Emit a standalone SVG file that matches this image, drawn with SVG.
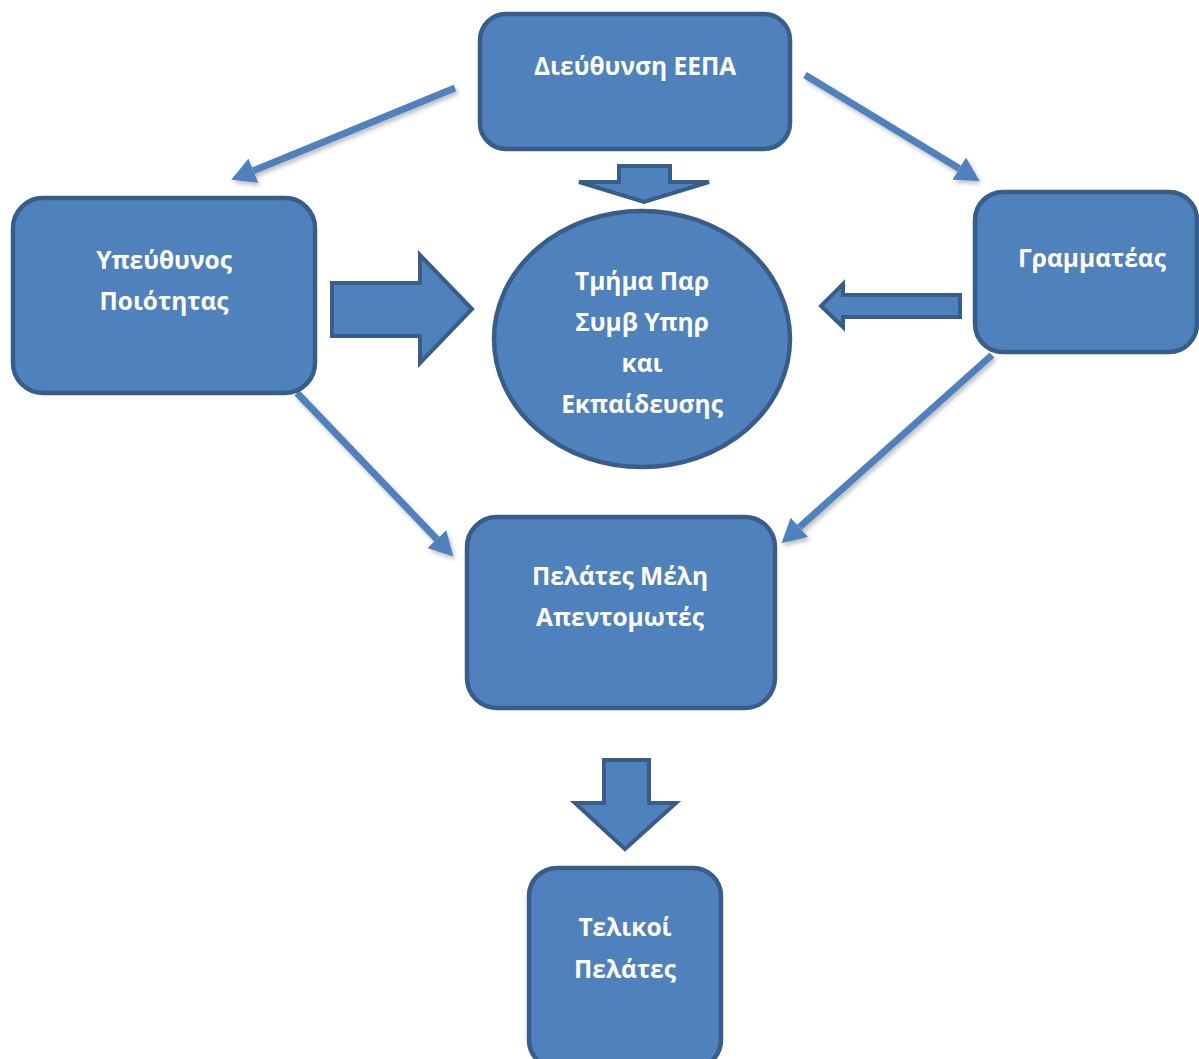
<svg xmlns="http://www.w3.org/2000/svg" width="1199" height="1059" viewBox="0 0 1199 1059">
  <style>
    .node { fill: #4F81BD; stroke: #385D8A; stroke-width: 4.5; }
    .block { fill: #4F81BD; stroke: #385D8A; stroke-width: 4; stroke-linejoin: miter; }
    .lbl { font-family: "Open Sans", "Liberation Sans", sans-serif; font-weight: 700; font-size: 24.5px; fill: #FFFFFF; text-anchor: middle; }
    .conn { stroke: #4F81BD; stroke-width: 7; fill: none; marker-end: url(#head); filter: url(#shadow); }
  </style>
  <defs>
    <marker id="head" markerUnits="userSpaceOnUse" markerWidth="24" markerHeight="26" viewBox="0 0 24 26" refX="0" refY="13" orient="auto">
      <path d="M0,0 L24,13 L0,26 z" fill="#4F81BD"/>
    </marker>
    <filter id="shadow" x="-20%" y="-20%" width="140%" height="140%">
      <feDropShadow dx="2" dy="3" stdDeviation="2" flood-color="#000000" flood-opacity="0.25"/>
    </filter>
  </defs>
  <rect width="1199" height="1059" fill="#FFFFFF"/>

  <g id="connectors">
    <path class="conn" d="M455,88 L253.4,170.7"/>
    <path class="conn" d="M805,75 L959.2,168.6"/>
    <path class="conn" d="M297,393 L436.8,539.1"/>
    <path class="conn" d="M992,355 L799.4,527.3"/>
    <polygon id="block-down-top" class="block" points="619,166 670,166 670,182 709,182 644,202 579,182 619,182"/>
    <polygon id="block-right" class="block" points="332,283 420,283 420,255 472,309 420,363 420,336 332,336"/>
    <polygon id="block-left" class="block" points="960,295 960,317 843,317 843,327 821,306 843,284 843,295"/>
    <polygon id="block-down-bottom" class="block" points="604,760 649,760 649,803 676,803 625,849 575,803 604,803"/>
  </g>

  <g id="node-dieuthynsi">
    <rect class="node" x="480" y="14" width="310" height="135" rx="26"/>
    <text class="lbl" x="635" y="75">Διεύθυνση ΕΕΠΑ</text>
  </g>

  <g id="node-ypeuthynos">
    <rect class="node" x="13" y="198" width="302" height="195" rx="30"/>
    <text class="lbl" x="164" y="269">Υπεύθυνος</text>
    <text class="lbl" x="164" y="310">Ποιότητας</text>
  </g>

  <g id="node-tmima">
    <ellipse class="node" cx="642" cy="339" rx="148" ry="128"/>
    <text class="lbl" x="642" y="290">Τμήμα Παρ</text>
    <text class="lbl" x="642" y="331">Συμβ Υπηρ</text>
    <text class="lbl" x="642" y="372">και</text>
    <text class="lbl" x="642" y="413">Εκπαίδευσης</text>
  </g>

  <g id="node-grammateas">
    <rect class="node" x="975" y="192" width="222" height="160" rx="28"/>
    <text class="lbl" x="1092" y="267">Γραμματέας</text>
  </g>

  <g id="node-pelates">
    <rect class="node" x="467" y="517" width="308" height="191" rx="30"/>
    <text class="lbl" x="620" y="585">Πελάτες Μέλη</text>
    <text class="lbl" x="620" y="626">Απεντομωτές</text>
  </g>

  <g id="node-telikoi">
    <rect class="node" x="529" y="868" width="192" height="200" rx="28"/>
    <text class="lbl" x="625" y="936">Τελικοί</text>
    <text class="lbl" x="625" y="978">Πελάτες</text>
  </g>
</svg>
